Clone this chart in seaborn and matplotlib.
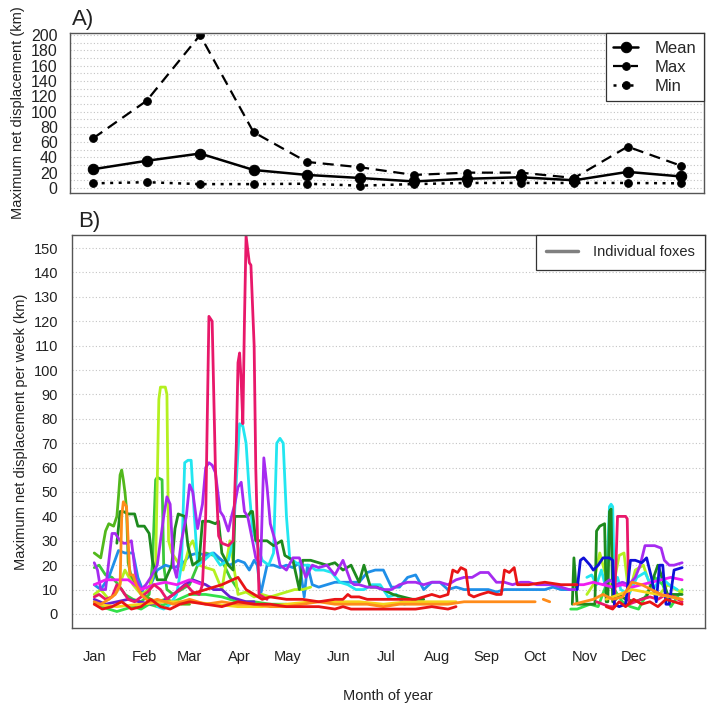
import numpy as np
import pandas as pd
import matplotlib
matplotlib.use("Agg")
import matplotlib.pyplot as plt
import seaborn as sns
from matplotlib.lines import Line2D

# ---------------- data: panel A ----------------
months = ["Jan", "Feb", "Mar", "Apr", "May", "Jun", "Jul", "Aug", "Sep", "Oct", "Nov", "Dec"]
month_pos = list(range(1, 13))
month_start_day = [1, 32, 60, 91, 121, 152, 182, 213, 244, 274, 305, 335]
mean_disp = [24.5, 35.5, 45, 23.5, 17, 13, 8.5, 12, 14, 10, 21, 15]
max_disp = [65, 114, 200, 73, 34, 27, 17, 20, 20, 13, 54, 29]
min_disp = [6, 7.5, 5, 5, 5.5, 3, 5, 6.5, 6.5, 6.5, 6.5, 6]

# ---------------- data: panel B (individual foxes) ----------------
crimson_a_days = [1, 4, 8, 12, 15, 18, 22, 26, 30, 34, 38, 42, 46, 50, 54, 58, 62, 66, 68, 70, 72, 74, 76, 78, 80, 84, 87, 89, 90, 91, 92, 93, 94, 95, 97, 98, 100, 101, 103, 108]
crimson_a_vals = [7, 8, 6, 7, 12, 10, 6, 5, 7, 9, 12, 10, 6, 8, 10, 12, 9, 8, 12, 40, 122, 120, 60, 32, 29, 28, 30, 70, 103, 107, 95, 78, 120, 155, 144, 143, 110, 60, 8, 6]
crimson_b_days = [312, 316, 320, 323, 324, 325, 330, 331, 332, 336, 340, 345, 350, 355, 360, 365]
crimson_b_vals = [5, 4, 3, 3, 20, 40, 40, 39, 4, 5, 6, 7, 6, 8, 7, 5]

cyan_a_days = [40, 44, 48, 52, 55, 57, 59, 61, 63, 65, 69, 74, 79, 84, 87, 89, 91, 93, 95, 97, 99, 102, 105, 109, 112, 114, 116, 118, 120, 122, 126, 130, 134, 138, 143, 148, 153, 158, 163, 168, 173, 178, 183, 188, 193, 198]
cyan_a_vals = [3, 2, 4, 8, 20, 62, 63, 63, 40, 20, 22, 25, 20, 22, 30, 55, 78, 77, 70, 50, 35, 28, 22, 20, 25, 70, 72, 70, 40, 23, 21, 20, 20, 18, 18, 17, 13, 12, 10, 10, 12, 12, 7, 8, 4, 5]
cyan_b_days = [306, 309, 312, 315, 318, 320, 321, 322, 323, 325, 327, 332, 337, 342, 347, 352, 357, 362]
cyan_b_vals = [15, 16, 12, 18, 10, 44, 45, 44, 12, 15, 10, 8, 15, 17, 10, 15, 12, 10]

yellowgreen_a_days = [1, 5, 10, 15, 20, 25, 30, 35, 37, 39, 41, 42, 45, 46, 47, 49, 52, 56, 60, 62, 64, 66, 70, 75, 80, 85, 90, 95, 100, 105, 110, 115, 120, 125, 130, 135]
yellowgreen_a_vals = [8, 10, 6, 9, 18, 12, 8, 10, 15, 20, 88, 93, 93, 90, 30, 25, 22, 18, 28, 30, 26, 20, 19, 18, 10, 30, 8, 9, 7, 8, 7, 8, 9, 10, 10, 11]
yellowgreen_b_days = [306, 310, 314, 318, 322, 326, 329, 332, 336, 341, 346, 351, 356, 361, 365]
yellowgreen_b_vals = [8, 12, 25, 15, 10, 24, 25, 8, 18, 20, 10, 8, 12, 10, 9]

limegreen_days = [1, 3, 5, 8, 10, 13, 15, 16, 17, 18, 19, 20, 21, 22, 24, 27, 31, 36, 40, 45, 50, 55, 60]
limegreen_vals = [25, 24, 23, 34, 37, 36, 40, 48, 57, 59, 55, 50, 43, 21, 15, 12, 8, 6, 5, 6, 5, 4, 4]

forest_a_days = [15, 17, 19, 22, 26, 28, 32, 35, 37, 40, 45, 49, 51, 53, 57, 59, 62, 66, 68, 72, 76, 78, 80, 84, 87, 88, 92, 96, 98, 99, 101, 103, 108, 112, 117, 119, 124, 128, 130, 135, 140, 145, 150, 155, 160, 165, 168, 172, 176, 180, 186, 192, 198, 205]
forest_a_vals = [29, 42, 42, 41, 41, 36, 36, 33, 22, 14, 14, 20, 35, 41, 40, 28, 20, 22, 38, 38, 37, 38, 25, 20, 18, 40, 40, 40, 42, 42, 30, 30, 30, 28, 30, 24, 22, 10, 22, 22, 21, 20, 21, 18, 20, 13, 20, 11, 11, 10, 8, 7, 6, 6]
forest_b_days = [297, 298, 300, 304, 308, 311, 312, 314, 317, 318, 319, 320, 321, 322, 324, 326, 330, 336, 343, 350, 356, 365]
forest_b_vals = [4, 23, 4, 4, 4, 4, 34, 36, 37, 5, 5, 42, 43, 5, 6, 8, 6, 5, 7, 20, 8, 8]

orange_a_days = [1, 5, 10, 14, 17, 18, 19, 20, 21, 22, 23, 25, 27, 30, 35, 40, 45, 50, 55, 60, 70, 80, 90, 100, 110, 120, 130, 140, 150, 160, 170, 180, 190, 200, 210, 220, 230, 240, 250, 260, 270, 274]
orange_a_vals = [5, 4, 6, 8, 12, 40, 46, 45, 44, 30, 16, 16, 12, 8, 5, 6, 5, 4, 5, 6, 4, 5, 4, 4, 3, 3, 4, 5, 4, 4, 4, 3, 4, 4, 4, 4, 5, 5, 5, 5, 5, 5]
orange_b_days = [279, 283]
orange_b_vals = [6, 5]
orange_c_days = [298, 304, 310, 316, 322, 328, 334, 340, 346, 352, 358, 365]
orange_c_vals = [4, 5, 6, 8, 6, 7, 13, 12, 10, 8, 7, 6]

purple_a_days = [1, 3, 5, 8, 12, 14, 17, 19, 21, 24, 27, 30, 33, 36, 40, 44, 46, 48, 50, 52, 55, 58, 60, 62, 65, 68, 70, 72, 74, 76, 79, 81, 84, 86, 88, 90, 92, 94, 96, 99, 101, 104, 106, 108, 110, 113, 116, 120, 124, 128, 132, 136, 140, 145, 150, 155, 160, 162, 165, 170, 175, 180, 185, 190, 195, 200, 205, 210, 215, 220, 225, 230, 235, 240, 245, 250, 255, 260, 265, 270, 275, 280, 285, 290, 295, 300]
purple_a_vals = [21, 18, 10, 10, 33, 33, 30, 29, 29, 30, 14, 10, 12, 15, 20, 40, 48, 45, 20, 15, 30, 40, 53, 50, 35, 45, 60, 62, 61, 58, 42, 40, 34, 40, 45, 52, 54, 42, 40, 30, 23, 20, 64, 52, 37, 30, 20, 18, 23, 23, 15, 20, 19, 20, 16, 22, 13, 12, 12, 11, 11, 10, 10, 12, 13, 13, 12, 13, 13, 12, 14, 15, 15, 17, 17, 13, 13, 12, 13, 13, 12, 12, 12, 11, 10, 10]
purple_b_days = [316, 320, 324, 328, 332, 336, 339, 342, 348, 352, 354, 357, 360, 365]
purple_b_vals = [12, 14, 12, 13, 12, 15, 20, 28, 28, 27, 22, 20, 20, 21]

dodger_days = [1, 5, 10, 16, 20, 25, 28, 32, 36, 40, 45, 50, 55, 60, 65, 70, 75, 80, 85, 90, 94, 97, 100, 102, 104, 108, 112, 116, 120, 124, 128, 131, 133, 136, 140, 145, 150, 155, 160, 165, 170, 175, 180, 185, 190, 195, 200, 205, 210, 215, 220, 225, 230, 235, 240, 245, 250, 255, 260, 265, 270, 275, 280, 285, 290, 295]
dodger_vals = [12, 10, 15, 26, 25, 25, 15, 8, 12, 18, 20, 19, 20, 24, 25, 24, 25, 22, 20, 22, 21, 18, 22, 20, 8, 20, 20, 19, 20, 19, 21, 7, 20, 12, 11, 12, 13, 13, 13, 13, 17, 18, 18, 11, 11, 15, 16, 10, 13, 13, 10, 11, 10, 10, 10, 10, 9, 10, 10, 10, 10, 10, 10, 11, 10, 10]

red_a_days = [1, 6, 12, 18, 24, 30, 36, 42, 48, 54, 60, 70, 80, 90, 100, 110, 120, 130, 140, 150, 155, 160, 170, 180, 190, 200, 210, 220, 225]
red_a_vals = [4, 2, 3, 5, 2, 3, 6, 3, 2, 4, 5, 4, 3, 5, 4, 4, 3, 3, 3, 2, 3, 2, 2, 2, 2, 2, 3, 2, 3]
red_b_days = [60, 70, 80, 90, 95, 100, 105, 110, 120, 130, 140, 150, 155, 158, 160, 165, 170, 180, 190, 200, 210, 215, 220, 223, 226, 228, 231, 233, 236, 240, 245, 250, 253, 255, 258, 261, 263, 266, 270, 280, 290, 300]
red_b_vals = [8, 10, 12, 15, 10, 8, 6, 7, 6, 6, 5, 6, 6, 8, 7, 7, 6, 6, 6, 6, 8, 7, 8, 18, 17, 19, 18, 8, 7, 8, 9, 8, 8, 18, 17, 19, 12, 12, 12, 13, 12, 12]
red_c_days = [318, 322, 326, 330, 335, 340, 345, 350, 355, 360, 365]
red_c_vals = [3, 2, 5, 3, 6, 4, 5, 3, 6, 5, 4]

blue_days = [300, 302, 304, 308, 310, 313, 316, 320, 322, 323, 326, 330, 333, 336, 340, 343, 346, 349, 351, 353, 355, 357, 360, 365]
blue_vals = [10, 22, 23, 20, 18, 20, 23, 23, 22, 4, 3, 4, 22, 22, 21, 23, 15, 5, 20, 20, 4, 4, 18, 19]

gold_a_days = [1, 15, 30, 45, 60, 75, 90, 105, 120, 135, 150, 165, 180, 195, 210, 225]
gold_a_vals = [4, 3, 4, 5, 5, 4, 3, 3, 4, 5, 5, 5, 4, 5, 5, 5]
gold_b_days = [318, 326, 334, 342, 350, 358, 365]
gold_b_vals = [6, 8, 10, 9, 8, 7, 6]

magenta_a_days = [1, 8, 15, 22, 30, 38, 45, 52, 60, 68]
magenta_a_vals = [12, 14, 14, 14, 10, 12, 13, 12, 14, 12]
magenta_b_days = [298, 304, 310, 316, 322, 328, 334, 340, 346, 352, 358, 365]
magenta_b_vals = [12, 12, 13, 12, 11, 12, 11, 12, 13, 14, 15, 14]

spring_a_days = [1, 5, 10, 15, 20, 25, 30, 35, 40, 50, 60, 70, 80, 90, 100, 110, 120]
spring_a_vals = [5, 3, 2, 1, 2, 3, 2, 4, 3, 5, 8, 8, 7, 5, 5, 4, 4]
spring_b_days = [296, 300, 304, 308, 313, 318, 323, 328, 333, 338, 343, 348, 353, 358, 365]
spring_b_vals = [2, 2, 3, 4, 3, 12, 10, 5, 3, 2, 8, 15, 12, 3, 10]

indigo_days = [1, 8, 15, 22, 29, 36, 43, 50, 57, 62, 66, 70, 75, 80, 85, 90, 95, 100]
indigo_vals = [6, 4, 5, 6, 5, 4, 5, 8, 12, 14, 13, 12, 10, 10, 7, 6, 5, 5]

green_days = [1, 4, 8, 12, 16, 20, 25, 30, 35, 37, 39, 40, 43, 44, 46, 50, 55, 60, 65, 70, 75, 80, 85, 90]
green_vals = [19, 20, 16, 15, 12, 8, 6, 5, 8, 20, 55, 56, 55, 20, 10, 8, 10, 12, 20, 25, 24, 22, 15, 10]

# drawing order and colours of individual foxes
foxes = [
    ("#33E04A", [(spring_a_days, spring_a_vals), (spring_b_days, spring_b_vals)]),
    ("#3CC83C", [(green_days, green_vals)]),
    ("#52B81C", [(limegreen_days, limegreen_vals)]),
    ("#1F8FE8", [(dodger_days, dodger_vals)]),
    ("#B4F020", [(yellowgreen_a_days, yellowgreen_a_vals), (yellowgreen_b_days, yellowgreen_b_vals)]),
    ("#22E6F0", [(cyan_a_days, cyan_a_vals), (cyan_b_days, cyan_b_vals)]),
    ("#1E8A1E", [(forest_a_days, forest_a_vals), (forest_b_days, forest_b_vals)]),
    ("#A62BF0", [(purple_a_days, purple_a_vals), (purple_b_days, purple_b_vals)]),
    ("#6A1FD0", [(indigo_days, indigo_vals)]),
    ("#F01EF0", [(magenta_a_days, magenta_a_vals), (magenta_b_days, magenta_b_vals)]),
    ("#E8186A", [(crimson_a_days, crimson_a_vals), (crimson_b_days, crimson_b_vals)]),
    ("#1010D8", [(blue_days, blue_vals)]),
    ("#F5D31A", [(gold_a_days, gold_a_vals), (gold_b_days, gold_b_vals)]),
    ("#FF8C1A", [(orange_a_days, orange_a_vals), (orange_b_days, orange_b_vals), (orange_c_days, orange_c_vals)]),
    ("#E81416", [(red_a_days, red_a_vals), (red_b_days, red_b_vals), (red_c_days, red_c_vals)]),
]

# ---------------- style ----------------
sns.set_style("white")
plt.rcParams["font.family"] = ["Liberation Sans", "DejaVu Sans"]
TXT = "#222222"
SP = "#555555"
GRID = dict(color="#c4c4c4", linestyle=(0, (1, 2)), linewidth=0.8)

fig = plt.figure(figsize=(7.09, 7.04), dpi=100)

# ---------------- panel A ----------------
ax1 = fig.add_axes([0.099, 0.726, 0.894, 0.227])
dfA = pd.DataFrame({"month": month_pos, "Mean": mean_disp, "Max": max_disp, "Min": min_disp})
sns.lineplot(data=dfA, x="month", y="Mean", ax=ax1, color="black", linewidth=1.8,
             marker="o", markersize=7.5, markeredgecolor="black", label="Mean")
sns.lineplot(data=dfA, x="month", y="Max", ax=ax1, color="black", linewidth=1.6,
             linestyle=(0, (5, 3)), marker="o", markersize=5.5, markeredgecolor="black", label="Max")
sns.lineplot(data=dfA, x="month", y="Min", ax=ax1, color="black", linewidth=1.8,
             linestyle=(0, (1.2, 2.2)), marker="o", markersize=5.5, markeredgecolor="black", label="Min")
ax1.set_xlim(0.57, 12.43)
ax1.set_ylim(-6.5, 202.6)
ax1.set_xticks(month_pos)
ax1.set_xticklabels([])
ax1.set_yticks(np.arange(0, 201, 20))
ax1.set_yticks(np.arange(0, 201, 10), minor=True)
ax1.grid(axis="y", which="both", **GRID)
ax1.tick_params(axis="y", which="major", length=7, width=0.9, color=SP, labelsize=11.5, labelcolor=TXT, pad=2)
ax1.tick_params(axis="y", which="minor", length=0)
ax1.tick_params(axis="x", length=7, width=0.9, color=SP, direction="out")
ax1.set_xlabel("")
ax1.set_ylabel("Maximum net displacement (km)", fontsize=10.5, color=TXT, labelpad=4)
for s in ax1.spines.values():
    s.set_color(SP)
    s.set_linewidth(1.0)
leg1 = ax1.legend(loc="upper right", frameon=True, fancybox=False, framealpha=1, edgecolor="#333333",
                  fontsize=12, handlelength=1.5, borderpad=0.45, labelspacing=0.25, handletextpad=1.0,
                  borderaxespad=0)
leg1.get_frame().set_linewidth(0.9)
fig.text(0.101, 0.987, "A)", fontsize=16, color=TXT, ha="left", va="top")

# ---------------- panel B ----------------
ax2 = fig.add_axes([0.1015, 0.108, 0.8925, 0.558])
for color, segments in foxes:
    for d, v in segments:
        sns.lineplot(x=d, y=v, ax=ax2, color=color, linewidth=2.0, estimator=None, legend=False)
ax2.set_xlim(-12.8, 379)
ax2.set_ylim(-5.74, 155.3)
ax2.set_xticks(month_start_day)
ax2.set_xticklabels(months)
ax2.set_yticks(np.arange(0, 151, 10))
ax2.grid(axis="y", which="major", **GRID)
ax2.tick_params(axis="both", length=7, width=0.9, color=SP, labelsize=10.5, labelcolor=TXT)
ax2.tick_params(axis="x", pad=9)
ax2.tick_params(axis="y", pad=3)
ax2.set_xlabel("Month of year", fontsize=10.5, color=TXT, labelpad=18)
ax2.set_ylabel("Maximum net displacement per week (km)", fontsize=10.5, color=TXT, labelpad=4)
for s in ax2.spines.values():
    s.set_color(SP)
    s.set_linewidth(1.0)
h = [Line2D([0], [0], color="#808080", linewidth=2.5)]
leg2 = ax2.legend(h, ["Individual foxes"], loc="upper right", frameon=True, fancybox=False, framealpha=1,
                  edgecolor="#333333", fontsize=10.5, handlelength=2.2, borderpad=0.7, handletextpad=1.0,
                  borderaxespad=0)
leg2.get_frame().set_linewidth(0.9)
fig.text(0.110, 0.700, "B)", fontsize=16, color=TXT, ha="left", va="top")

fig.savefig("out.png", dpi=100)
